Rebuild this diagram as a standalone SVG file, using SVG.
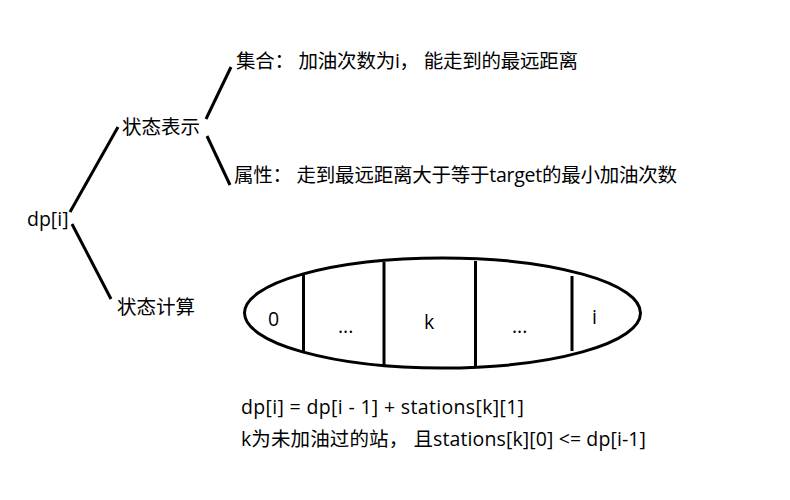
<svg xmlns="http://www.w3.org/2000/svg" width="790" height="500" viewBox="0 0 790 500">
<style>
text { font-family: "Open Sans", "Noto Sans CJK SC", sans-serif; font-size: 19.5px; fill: #000; }
.ln { stroke: #000; stroke-width: 3; fill: none; stroke-linecap: butt; }
</style>
<rect width="790" height="500" fill="#fff"/>
<g id="connectors">
<line class="ln" x1="70" y1="212" x2="118" y2="127"/>
<line class="ln" x1="72" y1="224" x2="111" y2="299"/>
<line class="ln" x1="206" y1="119" x2="231" y2="67"/>
<line class="ln" x1="207" y1="136" x2="230" y2="185"/>
</g>
<g id="dp"><text x="27" y="226">dp[i]</text></g>
<g id="state-repr"><text x="122" y="134">状态表示</text></g>
<g id="state-calc"><text x="117" y="314">状态计算</text></g>
<g id="set"><text x="236" y="68" textLength="342" lengthAdjust="spacing">集合： 加油次数为i， 能走到的最远距离</text></g>
<g id="attr"><text x="234" y="182" textLength="443" lengthAdjust="spacing">属性： 走到最远距离大于等于target的最小加油次数</text></g>
<g id="array">
<ellipse class="ln" cx="442.5" cy="313" rx="198" ry="55"/>
<line class="ln" x1="303.5" y1="274" x2="303.5" y2="352"/>
<line class="ln" x1="384" y1="262" x2="384" y2="365"/>
<line class="ln" x1="475.5" y1="261" x2="475.5" y2="366"/>
<line class="ln" x1="572" y1="276" x2="572" y2="351"/>
<text x="268" y="326">0</text>
<text x="338" y="333">...</text>
<text x="424" y="329">k</text>
<text x="512" y="333">...</text>
<text x="592" y="324">i</text>
</g>
<g id="formula">
<text x="241" y="414" textLength="283" lengthAdjust="spacing">dp[i] = dp[i - 1] + stations[k][1]</text>
<text x="241" y="446" textLength="405" lengthAdjust="spacing">k为未加油过的站， 且stations[k][0] &lt;= dp[i-1]</text>
</g>
</svg>
